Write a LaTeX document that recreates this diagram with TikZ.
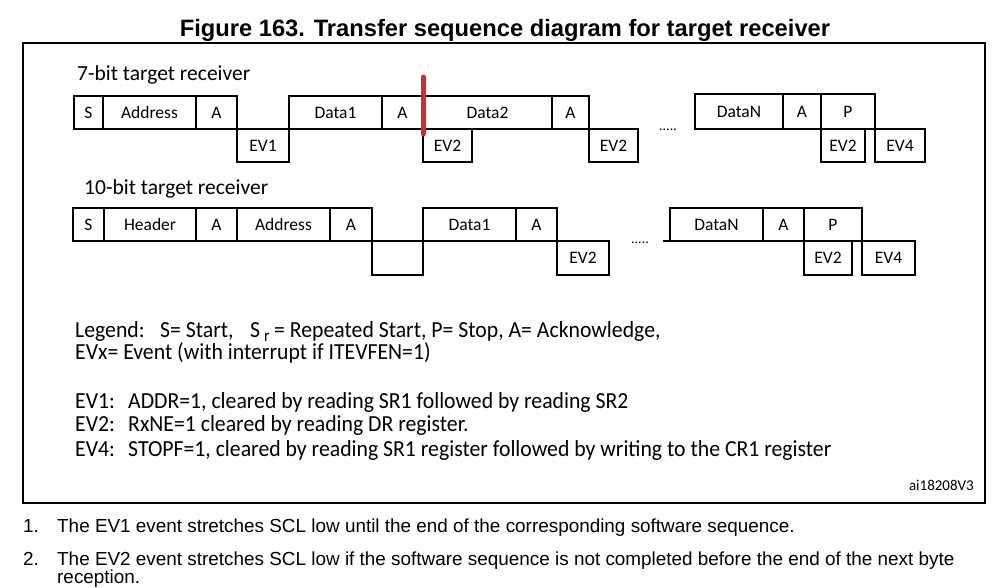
\documentclass[tikz,border=0pt]{standalone}
\usepackage{fontspec}
\setmainfont{Liberation Sans}
\newfontfamily\calibri{Carlito}
\newfontfamily\calnarrow[FakeStretch=0.945]{Carlito}
\usetikzlibrary{positioning}
\definecolor{marqueur}{HTML}{E0252B}

\begin{document}
\begin{tikzpicture}[x=1pt, y=-1pt,
    cadre/.style={draw, line width=1.4pt},
    cellule/.style={draw, line width=1.3pt, outer sep=0pt, inner sep=0pt,
      minimum width=#1, minimum height=33pt,
      font=\calibri\fontsize{17.5}{17.5}\selectfont},
    soustitre/.style={anchor=base west, inner sep=0pt, font=\calibri\fontsize{21.5}{21.5}\selectfont},
    legende/.style={anchor=base west, inner sep=0pt, font=\calnarrow\fontsize{23}{23}\selectfont},
    note/.style={anchor=base west, inner sep=0pt, font=\fontsize{18.9}{16}\selectfont},
    points/.style={font=\calibri\fontsize{14}{14}\selectfont}
  ]
    \useasboundingbox (0,0) rectangle (999,587);
    \node[anchor=base, font=\bfseries\fontsize{23.7}{23.7}\selectfont] (titre) at (505,36)
      {Figure 163. Transfer sequence diagram for target receiver};
    \draw[cadre] (23,43) rectangle (985,503);

    % 7-bit
    \node[soustitre] (lab7) at (77,80) {7-bit target receiver};
    \node[cellule=29pt, anchor=north west] (s1) at (74,96) {S};
    \node[cellule=93pt, right=0pt of s1] (adr1) {Address};
    \node[cellule=41pt, right=0pt of adr1] (ack1a) {A};
    \node[cellule=52pt, below right=0pt and 0pt of ack1a] (ev1a) {EV1};
    \node[cellule=93pt, above right=0pt and 0pt of ev1a] (data1a) {Data1};
    \node[cellule=41pt, right=0pt of data1a] (ack1b) {A};
    \node[cellule=129pt, right=0pt of ack1b] (data2a) {Data2};
    \node[cellule=49pt, below right=0pt and 0pt of ack1b] (ev2a) {EV2};
    \node[cellule=37pt, right=0pt of data2a] (ack1c) {A};
    \node[cellule=49pt, below right=0pt and 0pt of ack1c] (ev2b) {EV2};
    \node[points] (pts1) at (668,130) {.....};
    \node[cellule=88pt, minimum height=35pt, anchor=north west] (datan1) at (695,94) {DataN};
    \node[cellule=38pt, minimum height=35pt, right=0pt of datan1] (ack1d) {A};
    \node[cellule=54pt, minimum height=35pt, right=0pt of ack1d] (stop1) {P};
    \node[cellule=44pt, below right=0pt and 0pt of ack1d] (ev2c) {EV2};
    \node[cellule=50pt, below right=0pt and 0pt of stop1] (ev4a) {EV4};
    \coordinate (rhaut) at (423,77);
    \coordinate (rbas) at (423,134);
    \draw[marqueur, line width=5pt, line cap=round] (rhaut) -- (rbas);

    % 10-bit
    \node[soustitre] (lab10) at (84,194) {10-bit target receiver};
    \node[cellule=31pt, anchor=north west] (s2) at (73,208) {S};
    \node[cellule=92pt, right=0pt of s2] (hdr2) {Header};
    \node[cellule=41pt, right=0pt of hdr2] (ack2a) {A};
    \node[cellule=93pt, right=0pt of ack2a] (adr2) {Address};
    \node[cellule=42pt, right=0pt of adr2] (ack2b) {A};
    \node[cellule=51pt, minimum height=34pt, below right=0pt and 0pt of ack2b] (vide2) {};
    \node[cellule=93pt, above right=0pt and 0pt of vide2] (data1b) {Data1};
    \node[cellule=41pt, right=0pt of data1b] (ack2c) {A};
    \node[cellule=52pt, minimum height=34pt, below right=0pt and 0pt of ack2c] (ev2d) {EV2};
    \node[points] (pts2) at (640,243) {.....};
    \coordinate (amorce2) at (663,241);
    \node[cellule=93pt, anchor=north west] (datan2) at (670,208) {DataN};
    \node[cellule=41pt, right=0pt of datan2] (ack2d) {A};
    \node[cellule=58pt, right=0pt of ack2d] (stop2) {P};
    \node[cellule=48pt, minimum height=34pt, below right=0pt and 0pt of ack2d] (ev2e) {EV2};
    \node[cellule=53pt, minimum height=34pt, below right=0pt and 0pt of stop2] (ev4b) {EV4};
    \draw[line width=1.3pt] (amorce2) -- (datan2.south west);

    % legend
    \node[legende] (leg1) at (75,337) {Legend:};
    \node[legende] (leg1b) at (160,337) {S= Start,};
    \node[legende] (leg1s) at (250,337) {S};
    \node[legende, font=\calnarrow\fontsize{17}{17}\selectfont] (leg1r) at (264,341) {r};
    \node[legende] (leg1c) at (274,337) {= Repeated Start, P= Stop, A= Acknowledge,};
    \node[legende] (leg2) at (75,359) {EVx= Event (with interrupt if ITEVFEN=1)};
    \node[legende] (ev1t) at (75,408) {EV1:};
    \node[legende] (ev1d) at (128,408) {ADDR=1, cleared by reading SR1 followed by reading SR2};
    \node[legende] (ev2t) at (75,431) {EV2:};
    \node[legende] (ev2d) at (128,431) {RxNE=1 cleared by reading DR register.};
    \node[legende] (ev4t) at (75,456) {EV4:};
    \node[legende] (ev4d) at (128,456) {STOPF=1, cleared by reading SR1 register followed by writing to the CR1 register};
    \node[anchor=base east, inner sep=0pt, font=\calibri\fontsize{15}{15}\selectfont] (ref) at (974,490) {ai18208V3};

    % notes
    \node[note] (n1) at (23,532) {1.};
    \node[note] (n1t) at (57,532) {The EV1 event stretches SCL low until the end of the corresponding software sequence.};
    \node[note] (n2) at (23,565) {2.};
    \node[note] (n2t) at (57,565) {The EV2 event stretches SCL low if the software sequence is not completed before the end of the next byte};
    \node[note] (n2u) at (57,583) {reception.};
  \end{tikzpicture}
\end{document}
